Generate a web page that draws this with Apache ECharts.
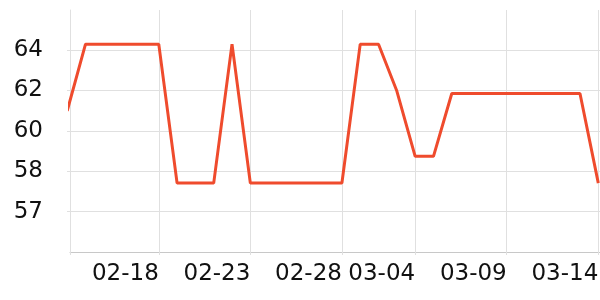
<!DOCTYPE html>
<html>
<head>
<meta charset="utf-8">
<script src="https://cdn.jsdelivr.net/npm/echarts@6/dist/echarts.min.js"></script>
<style>
html,body{margin:0;padding:0;background:#fff;}
#chart{width:600px;height:300px;}
</style>
</head>
<body>
<div id="chart"></div>
<script>
// ---- data (year 2023) ----
const year = 2023;
const dates = ['02-13','02-14','02-15','02-16','02-17','02-18','02-19','02-20','02-21','02-22',
               '02-23','02-24','02-25','02-26','02-27','02-28','03-01','03-02','03-03','03-04',
               '03-05','03-06','03-07','03-08','03-09','03-10','03-11','03-12','03-13','03-14'];
const values = [61.0, 64.07, 64.07, 64.07, 64.07, 64.07, 57.85, 57.85, 57.85, 64.07,
                57.85, 57.85, 57.85, 57.85, 57.85, 57.85, 64.07, 64.07, 61.9, 59.0,
                59.0, 61.79, 61.79, 61.79, 61.79, 61.79, 61.79, 61.79, 61.79, 57.85];
const xTickDates = ['02-18','02-23','02-28','03-04','03-09','03-14'];
// log (base e) y axis: tick step in ln units, and axis extent
const yLogStep = 0.029683;
const yMin = Math.exp(135 * yLogStep);
const yMax = 65.70;
// x axis extent offsets (fraction of a day)
const xMinOffsetDays = 0.153;
const xMaxOffsetDays = 0.093;

const DAY = 86400000;
function ts(md) {
  const [m, d] = md.split('-').map(Number);
  return Date.UTC(year, m - 1, d);
}
const t0 = ts(dates[0]);
function dayNum(md) { return Math.round((ts(md) - t0) / DAY); }
function fmt(v) {
  const d = new Date(t0 + Math.round(v) * DAY);
  const m = String(d.getUTCMonth() + 1).padStart(2, '0');
  const dd = String(d.getUTCDate()).padStart(2, '0');
  return m + '-' + dd;
}

const xMin = dayNum(dates[0]) + xMinOffsetDays;
const xMax = dayNum(dates[dates.length - 1]) + xMaxOffsetDays;
const labelDays = xTickDates.map(dayNum);

const FONT = 'DejaVu Sans';
const GRID = '#e0e0e0';

const chart = echarts.init(document.getElementById('chart'), null, {renderer: 'canvas'});
chart.setOption({
  animation: false,
  backgroundColor: '#ffffff',
  grid: {left: 70, right: 0, top: 10, bottom: 48, containLabel: false, outerBoundsMode: 'none'},
  xAxis: {
    type: 'value',
    min: xMin,
    max: xMax,
    axisLine: {show: true, lineStyle: {color: '#c8c8c8', width: 1}},
    axisTick: {show: true, length: 3, lineStyle: {color: GRID}, customValues: [xMin].concat(labelDays)},
    axisLabel: {
      customValues: labelDays,
      formatter: function (v) { return fmt(v); },
      align: 'right',
      margin: 11,
      fontFamily: FONT,
      fontSize: 23,
      color: '#111',
      hideOverlap: false
    },
    splitLine: {show: true, lineStyle: {color: GRID, width: 1}}
  },
  yAxis: {
    type: 'log',
    logBase: Math.E,
    min: yMin,
    max: yMax,
    interval: yLogStep,
    axisLine: {show: true, lineStyle: {color: GRID}},
    axisTick: {show: true, length: 3, lineStyle: {color: GRID}},
    axisLabel: {
      margin: 27,
      fontFamily: FONT,
      fontSize: 23,
      color: '#111',
      showMinLabel: false,
      showMaxLabel: false,
      formatter: function (v) { return String(Math.round(v)); }
    },
    splitLine: {show: true, showMinLine: true, showMaxLine: false, lineStyle: {color: GRID, width: 1}}
  },
  series: [{
    type: 'line',
    data: dates.map((d, i) => [dayNum(d), values[i]]),
    showSymbol: false,
    symbol: 'none',
    clip: true,
    lineStyle: {color: '#ef4b2d', width: 3},
    itemStyle: {color: '#ef4b2d'}
  }]
});
</script>
</body>
</html>
